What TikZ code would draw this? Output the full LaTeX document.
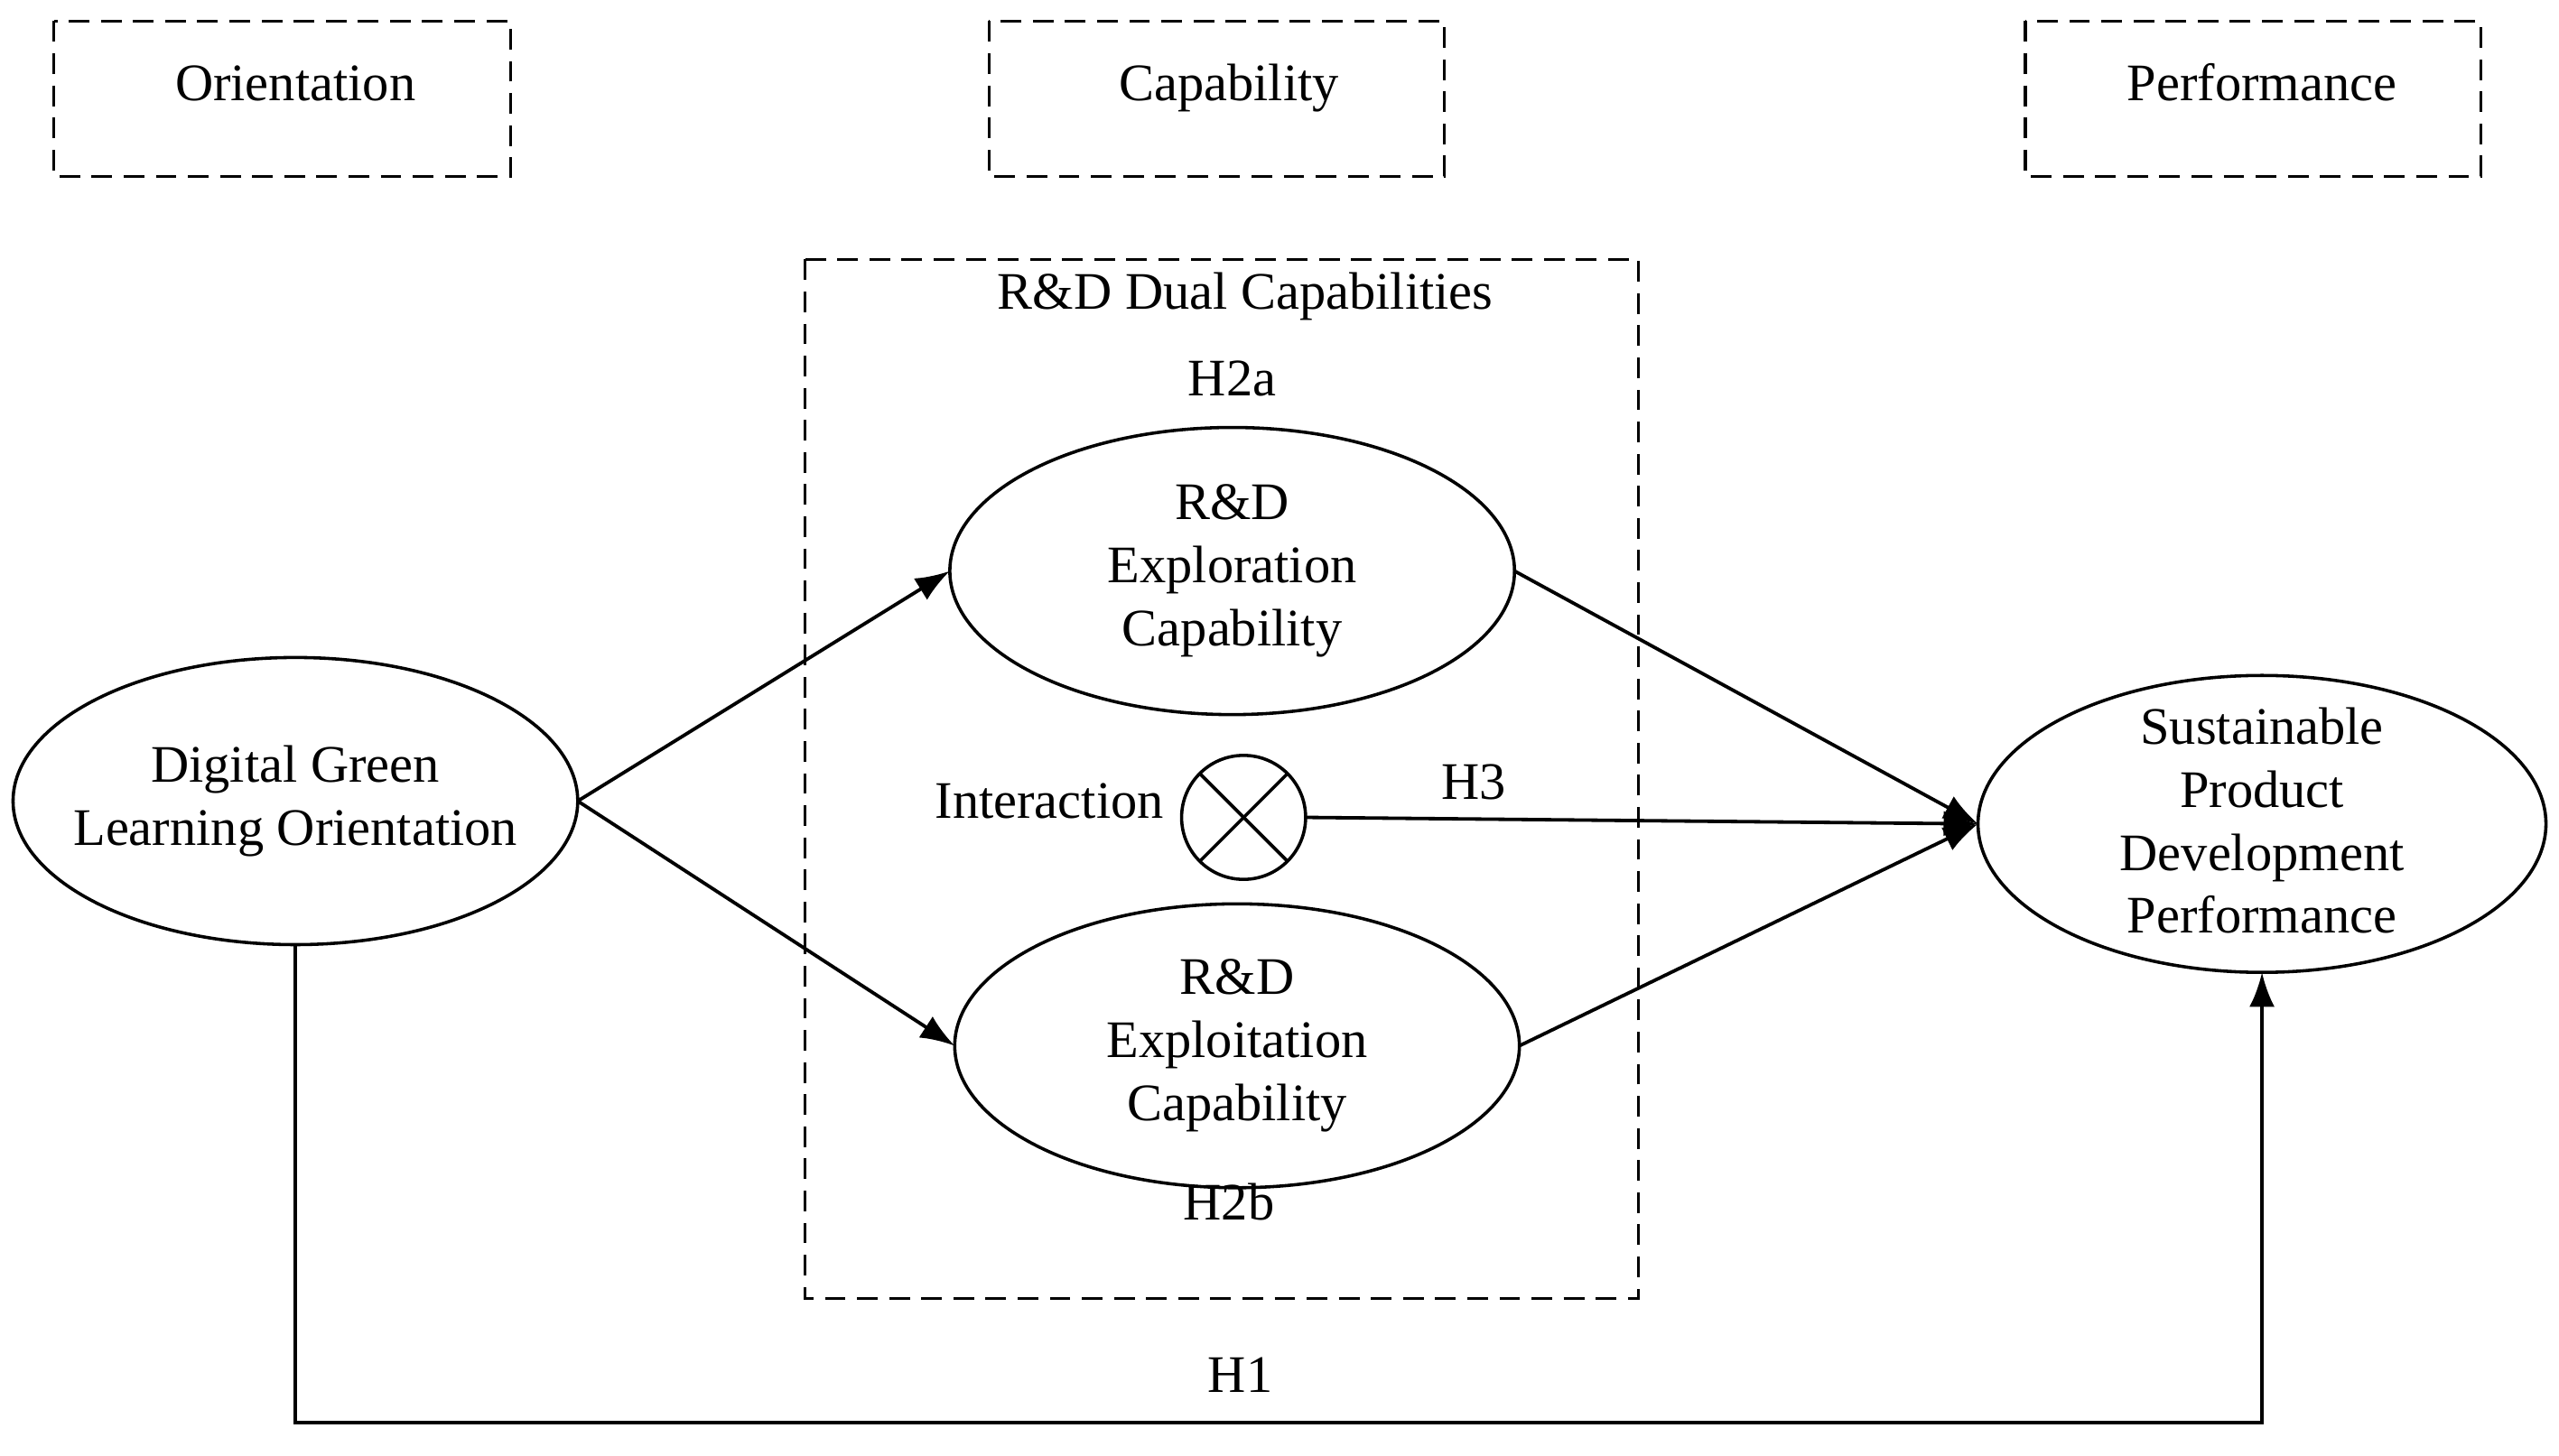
\documentclass[tikz,border=0pt]{standalone}
\usepackage{fontspec}
\setmainfont{Liberation Serif}
\usetikzlibrary{arrows.meta}
\begin{document}
\begin{tikzpicture}[x=0.05cm,y=-0.05cm,
  every node/.style={font=\fontsize{46}{55}\selectfont},
  lbl/.style={inner sep=0pt},
  one/.style={text height=0.7em,text depth=0.22em},
  dbox/.style={draw,dashed,line width=2.4pt,dash pattern=on 18pt off 10pt},
  arr/.style={line width=3pt,-{Latex[length=30pt,width=22pt]}}]
\useasboundingbox (0,0) rectangle (1568,892);
\draw[dbox] (33,13) rectangle (313,108);
\draw[dbox] (606,13) rectangle (885,108);
\draw[dbox] (1241,13) rectangle (1520,108);
\node[lbl,one] (o) at (181,60) {Orientation};
\node[lbl,one] (c) at (753,60) {Capability};
\node[lbl,one] (p) at (1386,60) {Performance};
\draw[dbox] (493,159) rectangle (1004,796);
\node[lbl,one] (rd) at (763,188) {R\&D Dual Capabilities};
\node[lbl,one] (h2a) at (755,241) {H2a};
\node[lbl,one] (h2b) at (753,746) {H2b};
\draw[line width=2.8pt] (755,350) ellipse [x radius=173, y radius=88];
\coordinate (exW) at (582,350); \coordinate (exE) at (928,350);
\node[lbl,align=center] (ex) at (755,350) {R\&D\\Exploration\\Capability};
\draw[line width=2.8pt] (758,641) ellipse [x radius=173, y radius=87];
\coordinate (etW) at (585,641); \coordinate (etE) at (931,641);
\node[lbl,align=center] (et) at (758,641) {R\&D\\Exploitation\\Capability};
\draw[line width=2.8pt] (181,491) ellipse [x radius=173, y radius=88];
\coordinate (dW) at (354,491); \coordinate (dS) at (181,579);
\node[lbl,align=center] (d) at (181,491) {Digital Green\\Learning Orientation};
\draw[line width=2.8pt] (1386,505) ellipse [x radius=174, y radius=91];
\coordinate (sW) at (1212,505); \coordinate (sS) at (1386,596);
\node[lbl,align=center] (s) at (1386,503) {Sustainable\\Product\\Development\\Performance};
\draw[line width=2.8pt] (762,501) circle [radius=38];
\draw[line width=2.8pt] (762,501) ++(45:38) -- ++(225:76);
\draw[line width=2.8pt] (762,501) ++(135:38) -- ++(-45:76);
\coordinate (iE) at (800,501);
\node[lbl,one] (int) at (643,500) {Interaction};
\node[lbl,one] (h3) at (903,488) {H3};
\node[lbl,one] (h1) at (760,852) {H1};
\draw[arr] (dW) -- (exW);
\draw[arr] (dW) -- (etW);
\draw[arr] (exE) -- (sW);
\draw[arr] (etE) -- (sW);
\draw[arr] (iE) -- (sW);
\draw[arr] (dS) -- (181,872) -- (1386,872) -- (sS);
\end{tikzpicture}
\end{document}
